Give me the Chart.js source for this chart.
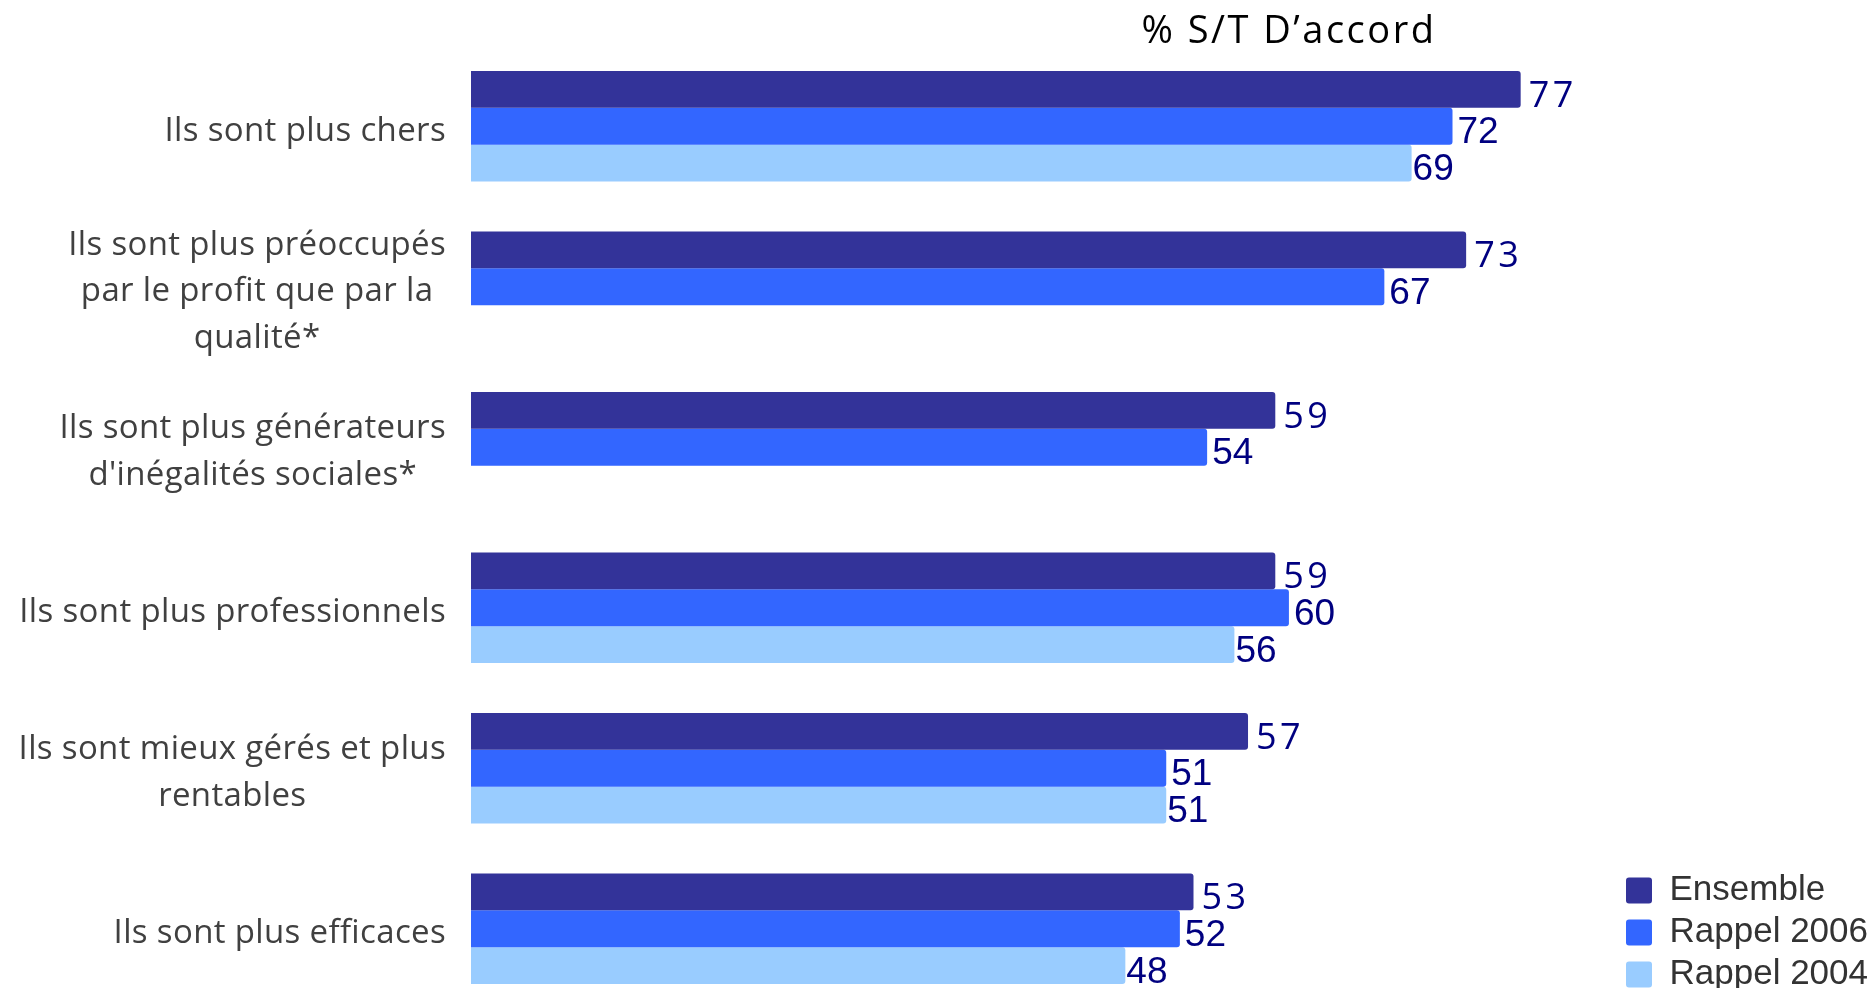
<!DOCTYPE html>
<html>
<head>
<meta charset="utf-8">
<script src="https://cdn.jsdelivr.net/npm/chart.js@4"></script>
<style>
  html, body { margin: 0; padding: 0; background: #fff; overflow: hidden; }
  #wrap { position: relative; width: 1871px; height: 1009px; }
</style>
</head>
<body>
<div id="wrap"><canvas id="chart"></canvas></div>
<script>
const categories = [
  ["Ils sont plus chers"],
  ["Ils sont plus préoccupés", "par le profit que par la", "qualité*"],
  ["Ils sont plus générateurs", "d'inégalités sociales*"],
  ["Ils sont plus professionnels"],
  ["Ils sont mieux gérés et plus", "rentables"],
  ["Ils sont plus efficaces"]
];
const seriesNames = ["Ensemble", "Rappel 2006", "Rappel 2004"];
const ensemble = [77, 73, 59, 59, 57, 53];
const rappel2006 = [72, 67, 54, 60, 51, 52];
const rappel2004 = [69, null, null, 56, 51, 48];
const chartTitle = "% S/T D’accord";

const colors = ["#333399", "#3366ff", "#99ccff"];

// nudge the legend a bit up and right, like the original
const legendShift = {
  id: "legendShift",
  afterLayout(chart) {
    const lg = chart.legend;
    lg.top -= 10; lg.bottom -= 10;
    lg.left += 7; lg.right += 7;
  }
};

// draws title, category labels and value labels
const textPlugin = {
  id: "texts",
  afterDraw(chart) {
    const ctx = chart.ctx;
    const area = chart.chartArea;
    const xs = chart.scales.x;
    const ys = chart.scales.y;
    ctx.save();

    ctx.font = "38px 'Open Sans'";
    ctx.letterSpacing = "2.5px";
    ctx.fillStyle = "#000";
    ctx.textAlign = "center";
    ctx.textBaseline = "middle";
    ctx.fillText(chartTitle, xs.getPixelForValue(60.0), 32);

    ctx.font = "33px 'Open Sans'";
    ctx.letterSpacing = "0.35px";
    ctx.fillStyle = "#404040";
    const right = area.left - 25;
    const lh = 46.5;
    categories.forEach((lines, i) => {
      const cy = ys.getPixelForTick(i) + 5;
      const maxW = Math.max(...lines.map(l => ctx.measureText(l).width));
      lines.forEach((l, k) => {
        const y = cy + (k - (lines.length - 1) / 2) * lh;
        ctx.fillText(l, right - maxW / 2, y);
      });
    });

    ctx.textAlign = "left";
    chart.data.datasets.forEach((ds, i) => {
      const meta = chart.getDatasetMeta(i);
      meta.data.forEach((bar, j) => {
        const v = ds.data[j];
        if (v == null) return;
        ctx.fillStyle = "#000080";
        if (i == 0) {
          ctx.font = "36px 'Open Sans'";
          ctx.letterSpacing = "3.5px";
          ctx.fillText(v, bar.x + 8, bar.y + 7);
        } else {
          ctx.font = "37px 'Liberation Sans'";
          ctx.letterSpacing = "0px";
          ctx.fillText(v, bar.x + (i == 1 ? 5 : 1), bar.y + 7);
        }
      });
    });
    ctx.restore();
  }
};

new Chart(document.getElementById("chart"), {
  type: "bar",
  data: {
    labels: categories.map(c => c.join(" ")),
    datasets: [
      { label: seriesNames[0], data: ensemble, backgroundColor: colors[0] },
      { label: seriesNames[1], data: rappel2006, backgroundColor: colors[1] },
      { label: seriesNames[2], data: rappel2004, backgroundColor: colors[2] }
    ]
  },
  options: {
    indexAxis: "y",
    responsive: true,
    maintainAspectRatio: false,
    animation: false,
    layout: { padding: { top: 46, bottom: 0, left: 0, right: 0 } },
    datasets: {
      bar: {
        categoryPercentage: 0.69,
        barPercentage: 1.0,
        borderWidth: 0,
        borderRadius: 3
      }
    },
    scales: {
      x: { display: false, min: 0, max: 83.7 },
      y: {
        grid: { display: false },
        border: { display: false },
        ticks: { display: false },
        afterFit(scale) { scale.width = 471; }
      }
    },
    plugins: {
      tooltip: { enabled: false },
      legend: {
        position: "right",
        align: "end",
        labels: {
          boxWidth: 26,
          boxHeight: 26,
          padding: 7,
          useBorderRadius: true,
          borderRadius: 3,
          color: "#333",
          font: { family: "'Liberation Sans'", size: 35 }
        }
      }
    }
  },
  plugins: [legendShift, textPlugin]
});
</script>
</body>
</html>
